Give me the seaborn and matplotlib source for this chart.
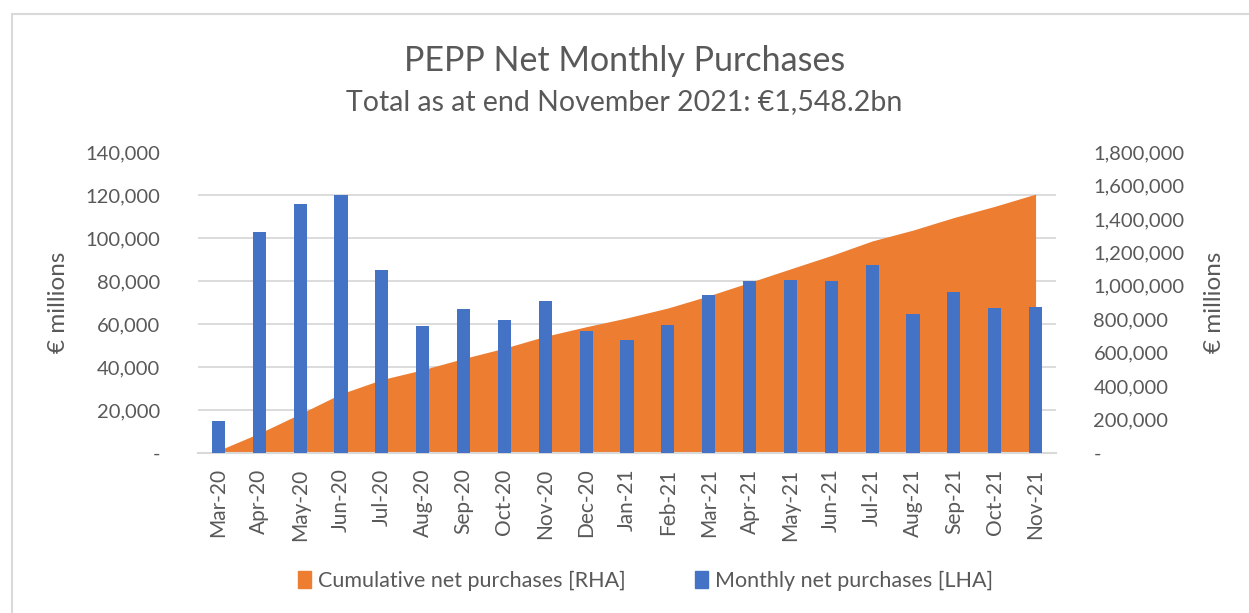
import matplotlib
matplotlib.use("Agg")
import matplotlib.pyplot as plt
import matplotlib.ticker as mticker
from matplotlib.patches import Patch
from matplotlib.lines import Line2D
import seaborn as sns
import pandas as pd
import numpy as np

# data (EUR millions)
months = ["Mar-20", "Apr-20", "May-20", "Jun-20", "Jul-20", "Aug-20", "Sep-20",
          "Oct-20", "Nov-20", "Dec-20", "Jan-21", "Feb-21", "Mar-21", "Apr-21",
          "May-21", "Jun-21", "Jul-21", "Aug-21", "Sep-21", "Oct-21", "Nov-21"]
monthly = [15000, 103000, 115700, 120200, 85100, 59100, 67000, 61700, 70500,
           56700, 52600, 59500, 73300, 79800, 80500, 79800, 87300, 64800,
           74700, 67400, 67700]
cumulative = [15000, 118000, 234000, 354000, 439000, 498000, 565000, 627000,
              698000, 755000, 808000, 867000, 940000, 1020000, 1101000,
              1181000, 1268000, 1333000, 1408000, 1475000, 1548200]

df = pd.DataFrame({"month": months, "monthly": monthly, "cumulative": cumulative})

blue = "#4472C4"
orange = "#ED7D31"
txt = "#595959"
grid_c = "#D9D9D9"

sns.set_theme(style="white")
plt.rcParams["font.family"] = ["Lato", "DejaVu Sans"]

fig = plt.figure(figsize=(12.49, 6.13), dpi=100)
ax = fig.add_axes([198 / 1249, 160 / 613, 858 / 1249, 301 / 613])
ax2 = ax.twinx()

# cumulative area on the right-hand axis (behind the bars)
xpos = np.arange(len(df))
ax2.fill_between(xpos, df["cumulative"], 0, color=orange, lw=0, zorder=2)
ax2.set_ylim(0, 1800000)
ax2.set_yticks(np.arange(0, 1800001, 200000))
ax2.set_yticks(np.linspace(0, 1800000, 8), minor=True)
ax2.grid(which="minor", axis="y", color=grid_c, lw=1.3, zorder=0)
ax2.grid(which="major", visible=False)
ax2.set_axisbelow(True)

# monthly bars on the left-hand axis, drawn on top
ax.set_zorder(ax2.get_zorder() + 1)
ax.patch.set_visible(False)
sns.barplot(data=df, x="month", y="monthly", color=blue, width=0.32,
            saturation=1, linewidth=0, ax=ax, zorder=3)
ax.set_xlim(-0.5, len(df) - 0.5)
ax.set_ylim(0, 140000)
ax.set_yticks(np.arange(0, 140001, 20000))


def fmt(v, pos):
    return "-" if v == 0 else f"{v:,.0f}"


for a in (ax, ax2):
    a.yaxis.set_major_formatter(mticker.FuncFormatter(fmt))
    a.tick_params(axis="y", which="both", length=0, labelsize=14.5,
                  colors=txt, pad=27)
    for s in a.spines.values():
        s.set_visible(False)
ax.spines["bottom"].set_visible(True)
ax.spines["bottom"].set_color(grid_c)
ax.spines["bottom"].set_linewidth(1.5)

ax.tick_params(axis="x", length=0, labelsize=15, colors=txt, pad=11,
               labelrotation=90)
ax.set_xlabel("")
ax.set_ylabel("€ millions", fontsize=17.5, color=txt, labelpad=12)
ax2.set_ylabel("€ millions", fontsize=17.5, color=txt, labelpad=14, rotation=90)

fig.text(0.5, 0.900, "PEPP Net Monthly Purchases", ha="center", va="center",
         fontsize=24.5, color=txt)
fig.text(0.5, 0.834, "Total as at end November 2021: €1,548.2bn", ha="center",
         va="center", fontsize=20.5, color=txt)

handles = [Patch(color=orange, label="Cumulative net purchases [RHA]"),
           Patch(color=blue, label="Monthly net purchases [LHA]")]
leg = fig.legend(handles=handles, loc="center", bbox_to_anchor=(0.517, 0.052),
                 ncol=2, frameon=False, fontsize=15.5, handlelength=0.6,
                 handleheight=0.8, handletextpad=0.35, columnspacing=3.2)
for t in leg.get_texts():
    t.set_color(txt)

# light chart frame
fig.add_artist(Line2D([12 / 1249, 12 / 1249], [0, 1 - 14 / 613],
                      color=grid_c, lw=1.5))
fig.add_artist(Line2D([12 / 1249, 1], [1 - 14 / 613, 1 - 14 / 613],
                      color=grid_c, lw=1.5))

fig.savefig("out.png", dpi=100, facecolor="white")
plt.close()
